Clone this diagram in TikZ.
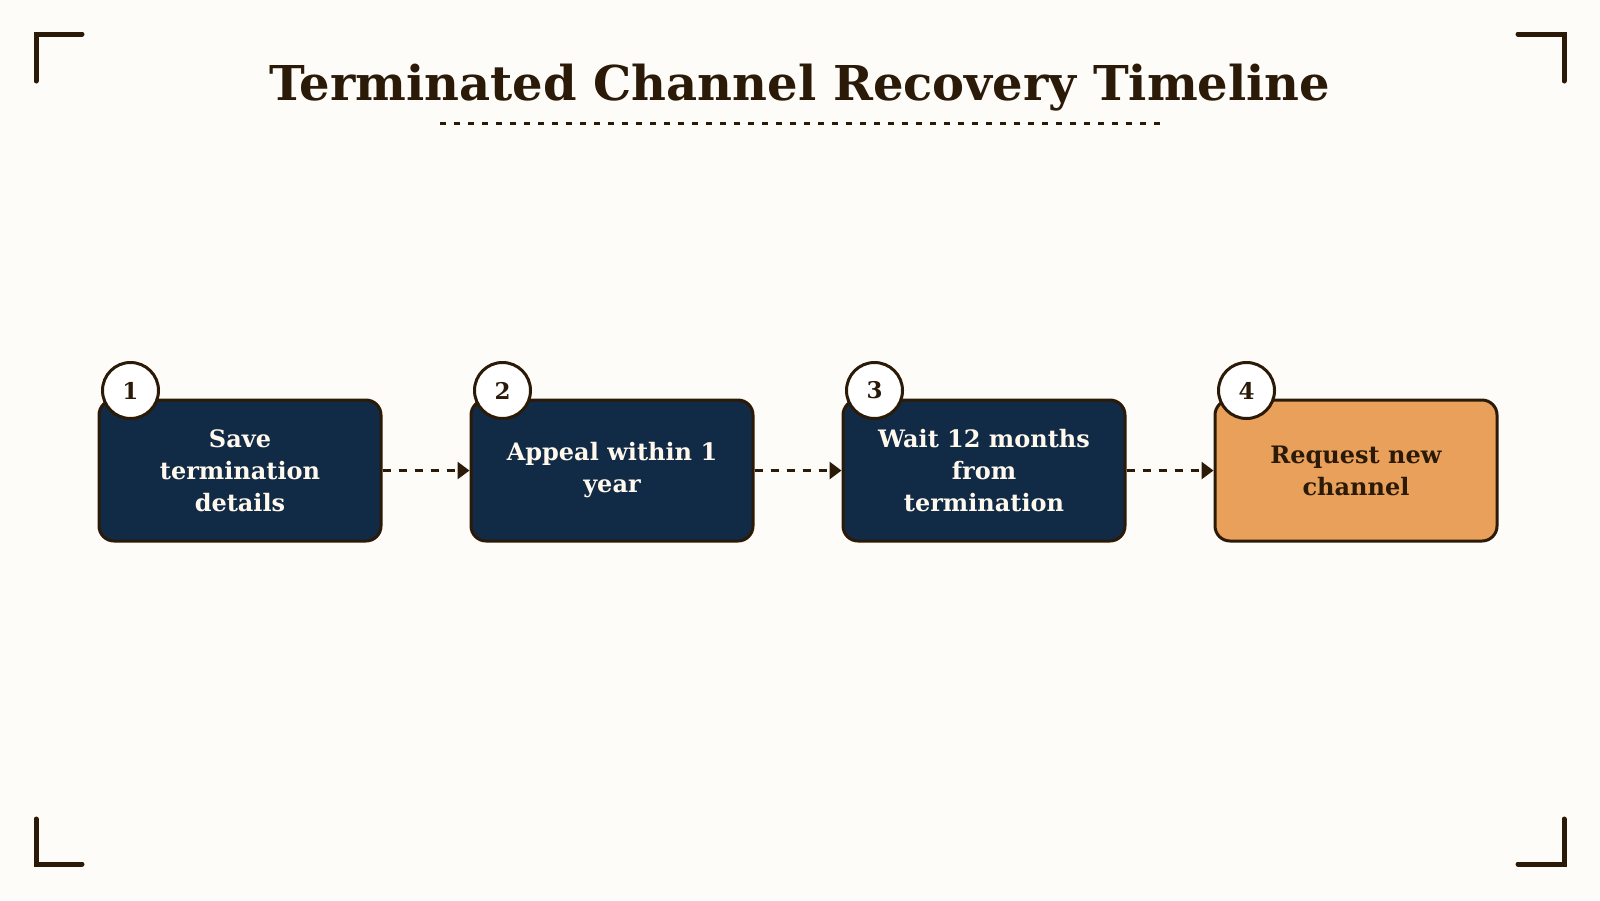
\documentclass[tikz,border=0pt]{standalone}
\usepackage{fontspec}
\setmainfont{DejaVu Serif}
\usetikzlibrary{arrows.meta}
\definecolor{bg}{HTML}{FEFCF8}
\definecolor{ink}{HTML}{2B1A07}
\definecolor{navy}{HTML}{112A46}
\definecolor{accent}{HTML}{E8A05A}
\definecolor{paper}{HTML}{FFF8EC}
\tikzset{
  bracket/.style={draw=ink, line width=5pt, line cap=round, line join=miter},
  stepbox/.style={draw=ink, line width=3pt, rounded corners=15pt, minimum width=282pt,
    minimum height=141pt, align=center, font=\bfseries\fontsize{24}{32}\selectfont, inner sep=0pt},
  navybox/.style={stepbox, fill=navy, text=paper},
  accentbox/.style={stepbox, fill=accent, text=ink},
  numcirc/.style={circle, draw=ink, line width=3pt, fill=white, minimum size=56pt, inner sep=0pt,
    text=ink, font=\bfseries\fontsize{23}{23}\selectfont},
  flow/.style={draw=ink, line width=3.5pt, dash pattern=on 8pt off 8pt,
    -{Triangle[length=12pt,width=17pt]}},
}
\begin{document}
\begin{tikzpicture}[x=1pt,y=-1pt]
\fill[bg] (0,0) rectangle (1600,900);
\useasboundingbox (0,0) rectangle (1600,900);
% corner brackets
\draw[bracket] (36,81) -- (36,34) -- (82,34);
\draw[bracket] (1518,34) -- (1564,34) -- (1564,81);
\draw[bracket] (36,819) -- (36,864) -- (82,864);
\draw[bracket] (1518,864) -- (1564,864) -- (1564,819);
% title
\node[anchor=base, text=ink, font=\bfseries\fontsize{48}{56}\selectfont, inner sep=0pt] (title) at (800,100)
  {Terminated Channel Recovery Timeline};
\coordinate (ulA) at (440,123.5);
\coordinate (ulB) at (1160,123.5);
\draw[ink, line width=3.5pt, dash pattern=on 6pt off 8pt] (ulA) -- (ulB);
% steps
\node[navybox] (s1) at (240,470.5) {Save\\termination\\details};
\node[navybox] (s2) at (612,470.5) {Appeal within 1\\year};
\node[navybox] (s3) at (984,470.5) {Wait 12 months\\from\\termination};
\node[accentbox] (s4) at (1356,470.5) {Request new\\channel};
% numbers
\node[numcirc] (n1) at ([xshift=33pt,yshift=8pt]s1.north west) {1};
\node[numcirc] (n2) at ([xshift=33pt,yshift=8pt]s2.north west) {2};
\node[numcirc] (n3) at ([xshift=33pt,yshift=8pt]s3.north west) {3};
\node[numcirc] (n4) at ([xshift=33pt,yshift=8pt]s4.north west) {4};
% connectors
\draw[flow] (s1.east) -- (s2.west);
\draw[flow] (s2.east) -- (s3.west);
\draw[flow] (s3.east) -- (s4.west);
\end{tikzpicture}
\end{document}
